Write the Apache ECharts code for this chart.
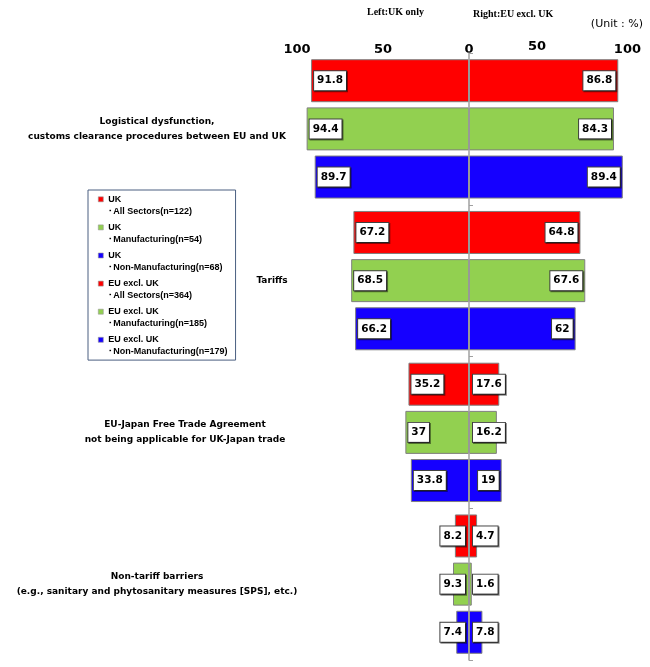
<!DOCTYPE html>
<html><head><meta charset="utf-8">
<script src="https://cdn.jsdelivr.net/npm/echarts@6/dist/echarts.min.js"></script>
<style>html,body{margin:0;padding:0;background:#fff}#c{width:650px;height:667px}</style>
</head><body><div id="c"></div>
<script>
const categories = [
  'Logistical dysfunction,\ncustoms clearance procedures between EU and UK',
  'Tariffs',
  'EU-Japan Free Trade Agreement\nnot being applicable for UK-Japan trade',
  'Non-tariff barriers\n(e.g., sanitary and phytosanitary measures [SPS], etc.)'
];
const seriesNames = [
  'UK\n･All Sectors(n=122)',
  'UK\n･Manufacturing(n=54)',
  'UK\n･Non-Manufacturing(n=68)',
  'EU excl. UK\n･All Sectors(n=364)',
  'EU excl. UK\n･Manufacturing(n=185)',
  'EU excl. UK\n･Non-Manufacturing(n=179)'
];
// Left side: UK only
const ukAll      = [91.8, 67.2, 35.2, 8.2];
const ukManu     = [94.4, 68.5, 37, 9.3];
const ukNonManu  = [89.7, 66.2, 33.8, 7.4];
// Right side: EU excl. UK
const euAll      = [86.8, 64.8, 17.6, 4.7];
const euManu     = [84.3, 67.6, 16.2, 1.6];
const euNonManu  = [89.4, 62, 19, 7.8];

const RED = '#FF0000', GREEN = '#92D050', BLUE = '#1500FF';

function items(vals, left) {
  return vals.map(v => {
    const near = v < 18;
    let pos;
    if (left) pos = near ? 'insideRight' : 'insideLeft';
    else pos = near ? 'insideLeft' : 'insideRight';
    return { value: left ? -v : v, label: { position: pos, distance: near ? 4 : 3 } };
  });
}

const labelStyle = {
  show: true,
  formatter: p => String(Math.abs(p.value)),
  fontFamily: 'DejaVu Sans',
  fontWeight: 'bold',
  fontSize: 10.5,
  lineHeight: 12,
  color: '#000',
  backgroundColor: '#fff',
  borderColor: '#404040',
  borderWidth: 1,
  padding: [4, 3, 3, 3],
  shadowColor: 'rgba(0,0,0,0.45)',
  shadowOffsetX: 1,
  shadowOffsetY: 1
};

function mk(name, vals, left, color, stack) {
  return {
    name: name,
    type: 'bar',
    stack: stack,
    yAxisIndex: 0,
    barWidth: 43,
    barGap: '12%',
    data: items(vals, left),
    itemStyle: { color: color, borderColor: '#7f7f7f', borderWidth: 1 },
    label: labelStyle,
    emphasis: { disabled: true }
  };
}

// per-category horizontal shift of the category text (rich token padding)
const catShift = { 'Tariffs': 230, 'EU-Japan': 56 };
function catFormatter(v) {
  const lines = v.split('\n');
  if (v === 'Tariffs') return '{t|' + v + '}';
  if (v.indexOf('EU-Japan') === 0) return lines.map(l => '{e|' + l + '}').join('\n');
  return v;
}

const chart = echarts.init(document.getElementById('c'), null, { renderer: 'canvas' });
chart.setOption({
  animation: false,
  backgroundColor: '#fff',
  title: [
    { text: 'Left:UK only', left: 367, top: 7, padding: 0,
      textStyle: { fontFamily: 'Liberation Serif', fontWeight: 'bold', fontSize: 10, color: '#000' } },
    { text: 'Right:EU excl. UK', left: 473, top: 9, padding: 0,
      textStyle: { fontFamily: 'Liberation Serif', fontWeight: 'bold', fontSize: 10, color: '#000' } },
    { text: '(Unit : %)', right: 7, top: 19, padding: 0,
      textStyle: { fontFamily: 'DejaVu Sans', fontWeight: 'normal', fontSize: 11, color: '#000' } }
  ],
  legend: {
    orient: 'vertical',
    left: 88, top: 190,
    padding: [3, 8, 2, 10],
    itemGap: 3.5,
    itemWidth: 5,
    itemHeight: 24,
    icon: 'path://M0,0L0,0M5,24L5,24M0,3.5L5,3.5L5,8.5L0,8.5Z',
    borderColor: '#4a5f80',
    borderWidth: 1,
    selectedMode: false,
    itemStyle: { borderWidth: 0.6, borderColor: '#999' },
    textStyle: { fontFamily: 'Liberation Sans', fontWeight: 'bold', fontSize: 9, lineHeight: 12, color: '#000' },
    data: seriesNames
  },
  grid: { left: 297, right: 9, top: 53, bottom: 7, containLabel: false },
  xAxis: {
    type: 'value', position: 'top', min: -100, max: 100, interval: 50,
    axisLine: { show: false }, axisTick: { show: false }, splitLine: { show: false },
    axisLabel: {
      margin: -3,
      alignMaxLabel: 'right',
      fontFamily: 'DejaVu Sans', fontWeight: 'bold', fontSize: 13, color: '#000',
      formatter: v => (v === 50 ? '{r|50}' : String(Math.abs(v))),
      rich: { r: { padding: [0, 36, 3, 0] } }
    }
  },
  yAxis: [
    {
      type: 'category', data: categories, inverse: true, position: 'left',
      axisLine: { show: false, onZero: false }, axisTick: { show: false },
      axisLabel: {
        margin: 140, align: 'center',
        fontFamily: 'DejaVu Sans', fontWeight: 'bold', fontSize: 9, lineHeight: 15, color: '#000',
        formatter: catFormatter,
        rich: {
          t: { padding: [0, 0, 0, catShift['Tariffs']] },
          e: { padding: [0, 0, 0, catShift['EU-Japan']] }
        }
      }
    },
    {
      type: 'category', data: categories, inverse: true, position: 'left', z: 5,
      axisLine: { show: true, onZero: true, lineStyle: { color: '#a0a0a0', width: 1.5 } },
      axisTick: { show: true, inside: true, length: 4, lineStyle: { color: '#a0a0a0' } },
      axisLabel: { show: false }
    }
  ],
  series: [
    mk(seriesNames[0], ukAll, true, RED, 'all'),
    mk(seriesNames[1], ukManu, true, GREEN, 'manu'),
    mk(seriesNames[2], ukNonManu, true, BLUE, 'non'),
    mk(seriesNames[3], euAll, false, RED, 'all'),
    mk(seriesNames[4], euManu, false, GREEN, 'manu'),
    mk(seriesNames[5], euNonManu, false, BLUE, 'non')
  ]
});
</script>
</body></html>
